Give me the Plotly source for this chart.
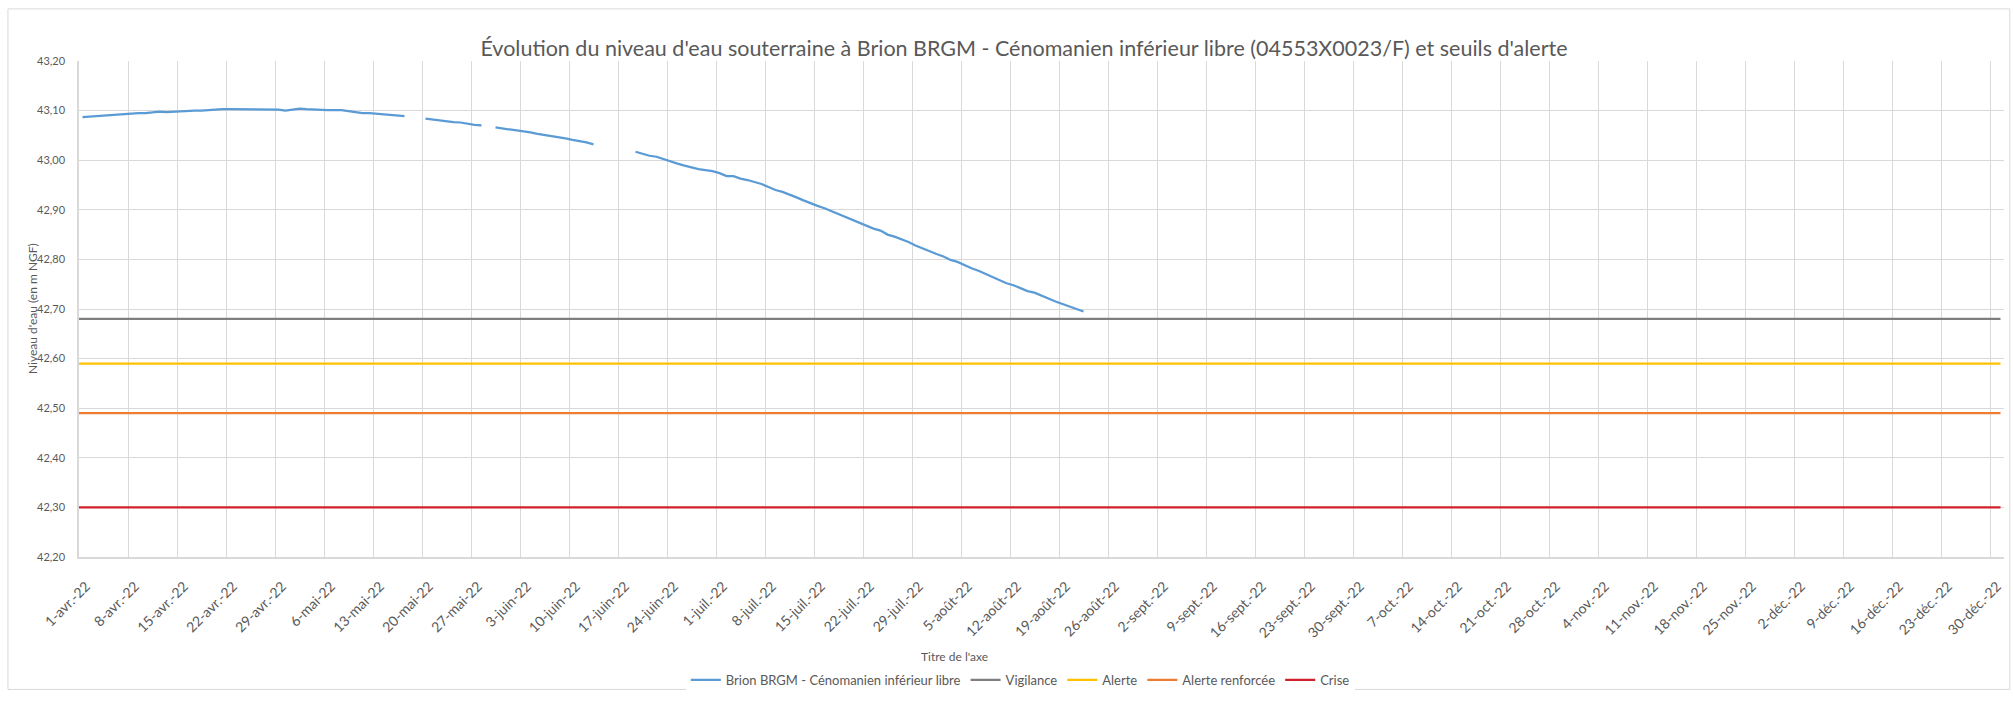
import pandas as pd
import plotly.graph_objects as go

# niveau journalier (m NGF), du 1-avr.-22 au 22-août-22, None = pas de mesure
niveau = [
    43.087, 43.088, 43.090, 43.091, 43.091, 43.092, 43.093, 43.094, 43.095, 43.095,
    43.097, 43.098, 43.097, 43.098, 43.099, 43.099, 43.100, 43.100, 43.101, 43.103,
    43.103, 43.103, 43.103, 43.102, 43.103, 43.103, 43.103, 43.103, 43.102, 43.100,
    43.102, 43.104, 43.103, 43.102, 43.102, 43.101, 43.101, 43.101, 43.099, 43.097,
    43.095, 43.095, 43.094, 43.092, 43.092, 43.091, 43.089,
    None, None,
    43.084, 43.082, 43.080, 43.078, 43.077, 43.076, 43.073, 43.071, 43.070,
    None,
    43.066, 43.064, 43.062, 43.061, 43.059, 43.056, 43.053, 43.051, 43.049, 43.046,
    43.044, 43.041, 43.039, 43.036, 43.032,
    None, None, None, None, None,
    43.017, 43.013, 43.009, 43.007, 43.002, 42.997, 42.993, 42.989, 42.985, 42.982,
    42.980, 42.978, 42.974, 42.968, 42.968, 42.963, 42.960, 42.956, 42.952, 42.946,
    42.940, 42.936, 42.931, 42.925, 42.919, 42.913, 42.908, 42.903, 42.897, 42.891,
    42.886, 42.880, 42.874, 42.868, 42.862, 42.858, 42.850, 42.846, 42.841, 42.835,
    42.828, 42.822, 42.817, 42.811, 42.806, 42.799, 42.795, 42.788, 42.782, 42.777,
    42.771, 42.765, 42.759, 42.752, 42.748, 42.742, 42.736, 42.733, 42.727, 42.720,
    42.715, 42.710, 42.705, 42.699, 42.695,
]
# mesures relevées vers midi
dates = pd.date_range("2022-04-01 12:00", periods=len(niveau), freq="D")

# seuils d'alerte (m NGF)
seuils = {
    "Vigilance": 42.68,
    "Alerte": 42.59,
    "Alerte renforcée": 42.49,
    "Crise": 42.30,
}
couleurs_seuils = {
    "Vigilance": "#7F7F7F",
    "Alerte": "#FFC000",
    "Alerte renforcée": "#ED7D31",
    "Crise": "#D0202A",
}
periode_seuils = ["2022-04-01", "2022-12-31 12:00"]

# graduations hebdomadaires de l'axe des dates
ticks = pd.date_range("2022-04-01", "2022-12-31", freq="7D")
mois = {4: "avr.", 5: "mai", 6: "juin", 7: "juil.", 8: "août", 9: "sept.",
        10: "oct.", 11: "nov.", 12: "déc."}
tick_labels = [f"{d.day}-{mois[d.month]}-22" for d in ticks]

FONT = "Lato, Open Sans, sans-serif"
GRIS_TXT = "#595959"
GRILLE = "#D9D9D9"

fig = go.Figure()

fig.add_trace(go.Scatter(
    x=dates, y=niveau, mode="lines",
    name="Brion BRGM - Cénomanien inférieur libre",
    line=dict(color="#5B9BD5", width=2.25),
    connectgaps=False,
))

for nom, val in seuils.items():
    fig.add_trace(go.Scatter(
        x=periode_seuils, y=[val, val], mode="lines", name=nom,
        line=dict(color=couleurs_seuils[nom], width=2.25),
    ))

fig.update_layout(
    width=2013, height=704,
    margin=dict(l=79, r=9, t=61, b=137),
    paper_bgcolor="white", plot_bgcolor="white",
    separators=", ",
    font=dict(family=FONT, size=12, color=GRIS_TXT),
    title=dict(
        text="Évolution du niveau d'eau souterraine à Brion BRGM - Cénomanien inférieur libre (04553X0023/F) et seuils d'alerte",
        x=0.5087, xanchor="center", y=0.931, yanchor="middle",
        font=dict(family=FONT, size=21.5, color=GRIS_TXT),
    ),
    legend=dict(
        orientation="h", x=0.489, xanchor="center", y=-0.248, yanchor="middle",
        font=dict(size=13, color=GRIS_TXT),
    ),
    showlegend=True,
)

fig.update_xaxes(
    type="date", range=["2022-04-01", "2023-01-01"],
    tickvals=ticks, ticktext=tick_labels, tickangle=-45,
    showgrid=True, gridcolor=GRILLE, gridwidth=1,
    showline=True, linecolor=GRILLE, linewidth=1.5,
    ticks="", ticklabelstandoff=14, ticklabelshift=7,
    tickfont=dict(size=14, color=GRIS_TXT),
    zeroline=False,
)
fig.update_yaxes(
    range=[42.2, 43.2], tick0=42.2, dtick=0.1, tickformat=".2f",
    showgrid=True, gridcolor=GRILLE, gridwidth=1,
    showline=True, linecolor=GRILLE, linewidth=1.5,
    ticks="", ticklabelstandoff=10,
    tickfont=dict(size=11, color=GRIS_TXT),
    zeroline=False,
)

# titres des axes
fig.add_annotation(
    text="Niveau d'eau (en m NGF)", textangle=-90,
    xref="paper", yref="paper", x=-0.0244, y=0.5,
    xanchor="center", yanchor="middle",
    showarrow=False, font=dict(size=12, color=GRIS_TXT),
)
fig.add_annotation(
    text="Titre de l'axe",
    xref="paper", yref="paper", x=0.455, y=-0.2,
    xanchor="center", yanchor="middle",
    showarrow=False, font=dict(size=12, color=GRIS_TXT),
)

# cadre du graphique
fig.add_shape(
    type="rect", xref="paper", yref="paper",
    x0=-0.0369, x1=1.003, y0=-0.267, y1=1.105,
    line=dict(color=GRILLE, width=1), fillcolor="rgba(0,0,0,0)", layer="below",
)

fig.write_html(
    "out.html",
    config={"displayModeBar": False},
    post_script="document.body.style.margin = '0';",
)
